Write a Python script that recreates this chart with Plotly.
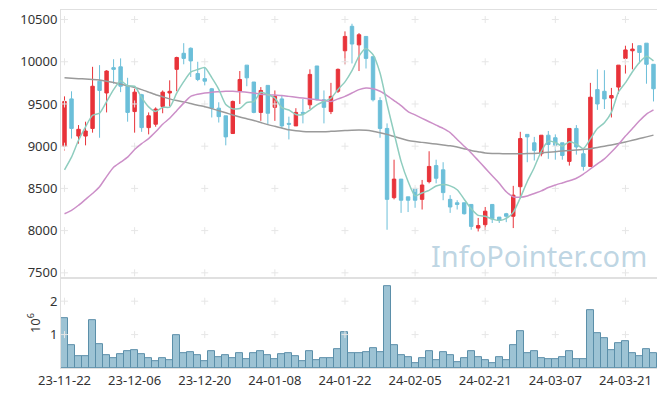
import plotly.graph_objects as go
from plotly.subplots import make_subplots

dates = ["23-11-22","23-11-23","23-11-24","23-11-27","23-11-28","23-11-29","23-11-30","23-12-01","23-12-04","23-12-05",
"23-12-06","23-12-07","23-12-08","23-12-11","23-12-12","23-12-13","23-12-14","23-12-15","23-12-18","23-12-19",
"23-12-20","23-12-21","23-12-22","23-12-26","23-12-27","23-12-28","24-01-02","24-01-03","24-01-04","24-01-05",
"24-01-08","24-01-09","24-01-10","24-01-11","24-01-12","24-01-15","24-01-16","24-01-17","24-01-18","24-01-19",
"24-01-22","24-01-23","24-01-24","24-01-25","24-01-26","24-01-29","24-01-30","24-01-31","24-02-01","24-02-02",
"24-02-05","24-02-06","24-02-07","24-02-08","24-02-13","24-02-14","24-02-15","24-02-16","24-02-19","24-02-20",
"24-02-21","24-02-22","24-02-23","24-02-26","24-02-27","24-02-28","24-02-29","24-03-04","24-03-05","24-03-06",
"24-03-07","24-03-08","24-03-11","24-03-12","24-03-13","24-03-14","24-03-15","24-03-18","24-03-19","24-03-20",
"24-03-21","24-03-22","24-03-25","24-03-26","24-03-27"]

open_ = [9000,9560,9120,9120,9210,9770,9630,9930,9940,9710,
9410,9610,9220,9260,9470,9630,9910,10100,10160,9860,
9800,9680,9450,9360,9150,9650,9960,9760,9400,9720,
9460,9560,9270,9240,9400,9490,9950,9550,9410,9650,
10130,10420,10200,10300,10060,9540,9210,8390,8610,8400,
8500,8370,8580,8770,8720,8370,8330,8330,8310,8030,
8070,8310,8160,8200,8170,8520,9140,9040,8910,9130,
9100,9040,8820,9210,8910,8760,9670,9650,9570,9700,
10040,10130,10190,10220,9970]
high = [9590,9650,9250,9290,9940,9960,9900,10030,10040,9810,
9680,9620,9400,9460,9660,9780,10060,10220,10170,10000,
9930,9690,9520,9360,9540,9890,9960,9760,9700,9720,
9660,9600,9350,9450,9560,9910,9950,9660,9750,9920,
10360,10450,10340,10300,10060,9580,9270,8840,8610,8400,
8500,8600,8940,8840,8810,8420,8360,8330,8310,8150,
8280,8310,8160,8210,8530,9170,9140,9110,9130,9180,
9140,9040,9210,9250,8960,9750,9910,9900,9690,9960,
10190,10220,10190,10220,9970]
low = [8950,9090,9030,9010,9160,9100,9400,9740,9640,9290,
9160,9170,9140,9230,9390,9470,9650,9970,9820,9770,
9720,9340,9280,9010,9150,9500,9710,9390,9300,9260,
9300,9210,9080,9240,9270,9440,9540,9270,9380,9630,
9970,9980,9890,9920,9530,9100,8010,8370,8210,8220,
8270,8250,8560,8560,8360,8210,8250,8190,8010,7990,
8000,8090,8090,8100,8030,8380,8810,8830,8880,8850,
8840,8840,8770,8900,8710,8760,9430,9440,9340,9620,
9860,9910,9980,9740,9530]
close = [9530,9210,9200,9180,9710,9660,9890,9910,9710,9400,
9640,9220,9360,9440,9640,9650,10050,10040,10010,9790,
9770,9450,9350,9110,9530,9790,9810,9400,9660,9390,
9590,9240,9260,9400,9390,9850,9550,9460,9590,9910,
10300,10210,10320,10040,9550,9210,8370,8610,8360,8360,
8360,8540,8760,8620,8450,8280,8310,8200,8050,8060,
8230,8140,8120,8170,8420,9090,9110,8950,9130,9020,
9010,8890,9210,8990,8760,9580,9500,9560,9600,9960,
10140,10150,10110,9970,9680]

ma5 = [8720,8870,9070,9230,9366,9392,9528,9670,9776,9714,
9710,9576,9466,9412,9460,9462,9628,9764,9878,9908,
9932,9812,9674,9494,9442,9446,9518,9528,9638,9610,
9570,9456,9428,9376,9376,9428,9490,9530,9568,9672,
9762,9894,10066,10156,10084,9866,9498,9156,8820,8582,
8412,8446,8476,8528,8546,8530,8484,8372,8258,8180,
8170,8136,8120,8144,8216,8388,8582,8748,8940,9060,
9044,9000,9052,9024,8972,9086,9208,9278,9400,9640,
9752,9882,9992,10066,10010]
ma20 = [8200,8240,8300,8370,8440,8520,8640,8750,8810,8870,
8960,9030,9090,9170,9260,9330,9420,9510,9590,9615,
9630,9640,9645,9650,9650,9645,9640,9630,9615,9610,
9605,9600,9590,9580,9570,9560,9550,9540,9530,9560,
9590,9630,9670,9690,9680,9650,9600,9540,9480,9410,
9370,9330,9290,9250,9210,9160,9080,9000,8920,8830,
8740,8650,8560,8460,8400,8395,8410,8440,8470,8510,
8540,8565,8590,8620,8670,8730,8790,8850,8930,9020,
9120,9210,9300,9380,9430]
ma60 = [9810,9805,9800,9795,9790,9783,9770,9755,9735,9715,
9696,9670,9640,9610,9585,9560,9540,9525,9505,9485,
9467,9445,9420,9395,9370,9345,9325,9305,9280,9255,
9235,9215,9195,9182,9175,9172,9171,9172,9176,9180,
9185,9190,9192,9190,9178,9160,9140,9115,9090,9068,
9055,9045,9035,9025,9015,9005,8990,8970,8950,8935,
8920,8914,8912,8910,8910,8910,8912,8914,8920,8928,
8935,8942,8948,8955,8962,8970,8985,9000,9015,9032,
9050,9070,9090,9110,9131]

volume_m = [1.48,0.67,0.35,0.35,1.43,0.71,0.38,0.29,0.41,0.50,
0.53,0.41,0.29,0.20,0.29,0.23,0.98,0.44,0.47,0.38,
0.20,0.50,0.32,0.38,0.29,0.44,0.26,0.44,0.50,0.38,
0.26,0.41,0.44,0.35,0.20,0.50,0.23,0.29,0.31,0.55,
1.06,0.43,0.43,0.46,0.58,0.46,2.44,0.67,0.40,0.34,
0.16,0.31,0.49,0.25,0.46,0.40,0.19,0.31,0.49,0.34,
0.25,0.16,0.34,0.25,0.67,1.09,0.43,0.49,0.31,0.28,
0.28,0.34,0.49,0.28,0.28,1.72,1.03,0.88,0.52,0.73,
0.79,0.43,0.37,0.55,0.43]

price_ticks = [7500, 8000, 8500, 9000, 9500, 10000, 10500]
volume_ticks = [1, 2]
x_ticks = dates[::10]

RED = "#e8333a"
BLUE = "#6cbfd9"
FONT = "Noto Sans"

fig = make_subplots(rows=2, cols=1, shared_xaxes=True, vertical_spacing=0,
                    row_heights=[0.749, 0.251])

# faint grid crosses at tick intersections
gx = [x for x in x_ticks for _ in price_ticks]
gy = [y for _ in x_ticks for y in price_ticks]
fig.add_trace(go.Scatter(x=gx, y=gy, mode="markers", hoverinfo="skip",
                         marker=dict(symbol="cross-thin", size=5,
                                     line=dict(color="#e6e6e6", width=1))), row=1, col=1)
vx = [x for x in x_ticks for _ in volume_ticks]
vy = [y for _ in x_ticks for y in volume_ticks]
fig.add_trace(go.Scatter(x=vx, y=vy, mode="markers", hoverinfo="skip",
                         marker=dict(symbol="cross-thin", size=5,
                                     line=dict(color="#e6e6e6", width=1))), row=2, col=1)

fig.add_trace(go.Candlestick(x=dates, open=open_, high=high, low=low, close=close,
                             increasing=dict(line=dict(color=RED, width=1), fillcolor=RED),
                             decreasing=dict(line=dict(color=BLUE, width=1), fillcolor=BLUE),
                             whiskerwidth=0), row=1, col=1)

fig.add_trace(go.Scatter(x=dates, y=ma60, mode="lines",
                         line=dict(color="#9a9a9a", width=1.5, shape="spline", smoothing=0.6)), row=1, col=1)
fig.add_trace(go.Scatter(x=dates, y=ma20, mode="lines",
                         line=dict(color="#cc8fc8", width=1.5, shape="spline", smoothing=0.6)), row=1, col=1)
fig.add_trace(go.Scatter(x=dates, y=ma5, mode="lines",
                         line=dict(color="#8fcdbf", width=1.5, shape="spline", smoothing=0.6)), row=1, col=1)

fig.add_trace(go.Bar(x=dates, y=volume_m,
                     marker=dict(color="rgba(140,185,205,0.85)",
                                 line=dict(color="#5b8fa9", width=1))), row=2, col=1)

axis_common = dict(showline=True, mirror=True, linecolor="#e0e0e0", linewidth=1,
                   showgrid=False, zeroline=False, ticks="",
                   tickfont=dict(family=FONT, size=13, color="#333333"))

fig.update_xaxes(type="category", categoryorder="array", categoryarray=dates,
                 range=[-0.5, 84.5], tickvals=x_ticks, ticktext=x_ticks, tickangle=0,
                 rangeslider=dict(visible=False), **axis_common)
fig.update_xaxes(showticklabels=False, row=1, col=1)
fig.update_yaxes(range=[7437, 10613], tickvals=price_ticks,
                 ticktext=[str(v) for v in price_ticks], row=1, col=1, **axis_common)
fig.update_yaxes(range=[0, 2.69], tickvals=volume_ticks,
                 ticktext=[str(v) for v in volume_ticks], row=2, col=1,
                 title=dict(text="10<sup>6</sup>", standoff=6,
                            font=dict(family=FONT, size=13, color="#333333")),
                 **axis_common)

fig.add_annotation(text="InfoPointer.com", xref="paper", yref="paper",
                   x=0.802, y=0.313, xanchor="center", yanchor="middle", showarrow=False,
                   font=dict(family=FONT, size=29, color="rgba(135,178,204,0.55)"))

# page body has an 8px margin; size the figure so plot area lands where the reference's does
fig.update_layout(width=657, height=388, margin=dict(l=53, r=8, t=2, b=28),
                  plot_bgcolor="white", paper_bgcolor="white", showlegend=False,
                  bargap=0, font=dict(family=FONT))

fig.write_html("out.html")
